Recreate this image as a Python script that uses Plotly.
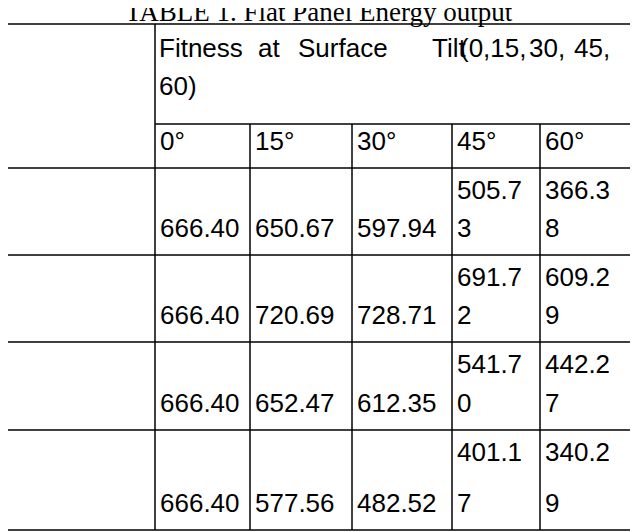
import plotly.graph_objects as go

title = "TABLE 1. Flat Panel Energy output"
orientations = ["North", "East", "South", "West"]
tilts = ["0°", "15°", "30°", "45°", "60°"]
values = [
    [666.40, 650.67, 597.94, 505.73, 366.38],
    [666.40, 720.69, 728.71, 691.72, 609.29],
    [666.40, 652.47, 612.35, 541.70, 442.27],
    [666.40, 577.56, 482.52, 401.17, 340.29],
]

W, H = 638, 532
OFF = 8  # page body margin
cols = [2, 155, 250, 352, 452, 540, 636]
top, hdr_mid = 24, 124
rows = [168, 255, 342, 430, 530]

fig = go.Figure()
shapes = []
line = dict(color="black", width=1.5)
def L(x0, y0, x1, y1):
    shapes.append(dict(type="line", x0=x0, y0=y0, x1=x1, y1=y1, xref="x", yref="y", line=line))

L(cols[0], top, cols[-1], top)
L(cols[1], hdr_mid, cols[-1], hdr_mid)
for y in rows:
    L(cols[0], y, cols[-1], y)
L(cols[0], top, cols[0], rows[-1])
L(cols[1], top, cols[1], rows[-1])
L(cols[-1], top, cols[-1], rows[-1])
for x in cols[2:-1]:
    L(x, hdr_mid, x, rows[-1])

ann = []
F = dict(family="Liberation Sans, Arial", size=26, color="black")
def T(x, y, s, anchor="left", font=F):
    ann.append(dict(x=x, y=y, text=s, showarrow=False, xref="x", yref="y",
                    xanchor=anchor, yanchor="middle", font=font))

ann.append(dict(x=319, y=12, text=title, showarrow=False, xref="x", yref="y",
                xanchor="center", yanchor="middle",
                font=dict(family="Liberation Serif, Times New Roman", size=27, color="black")))

T(cols[0] + 5, 104, "Orientation")
T(cols[0] + 5, 141, "(N.E.S.W)")
words = ["Fitness", "at", "Surface", "Tilt", "(0,15,", "30,", "45,"]
wx = [157, 256, 296, 430, 458, 527, 572]
for w, x in zip(words, wx):
    T(x, 48, w)
T(157, 86, "60)")
for j, t in enumerate(tilts):
    T(cols[j + 1] + 3, 141, t)

for i, o in enumerate(orientations):
    y0, y1 = rows[i], rows[i + 1]
    ybot = y1 - 27
    T(cols[0] + 5, ybot, o)
    for j, v in enumerate(values[i]):
        s = f"{v:.2f}"
        x = cols[j + 1] + 3
        if j >= 3:
            T(x, y0 + 22, s[:5])
            T(x, ybot, s[5:])
        else:
            T(x, ybot, s)

fig.update_layout(
    width=W - OFF, height=H - OFF, margin=dict(l=0, r=0, t=0, b=0),
    paper_bgcolor="white", plot_bgcolor="white",
    xaxis=dict(range=[OFF, W], visible=False, fixedrange=True),
    yaxis=dict(range=[H, OFF], visible=False, fixedrange=True),
    shapes=shapes, annotations=ann, showlegend=False,
)
fig.write_html("out.html")
